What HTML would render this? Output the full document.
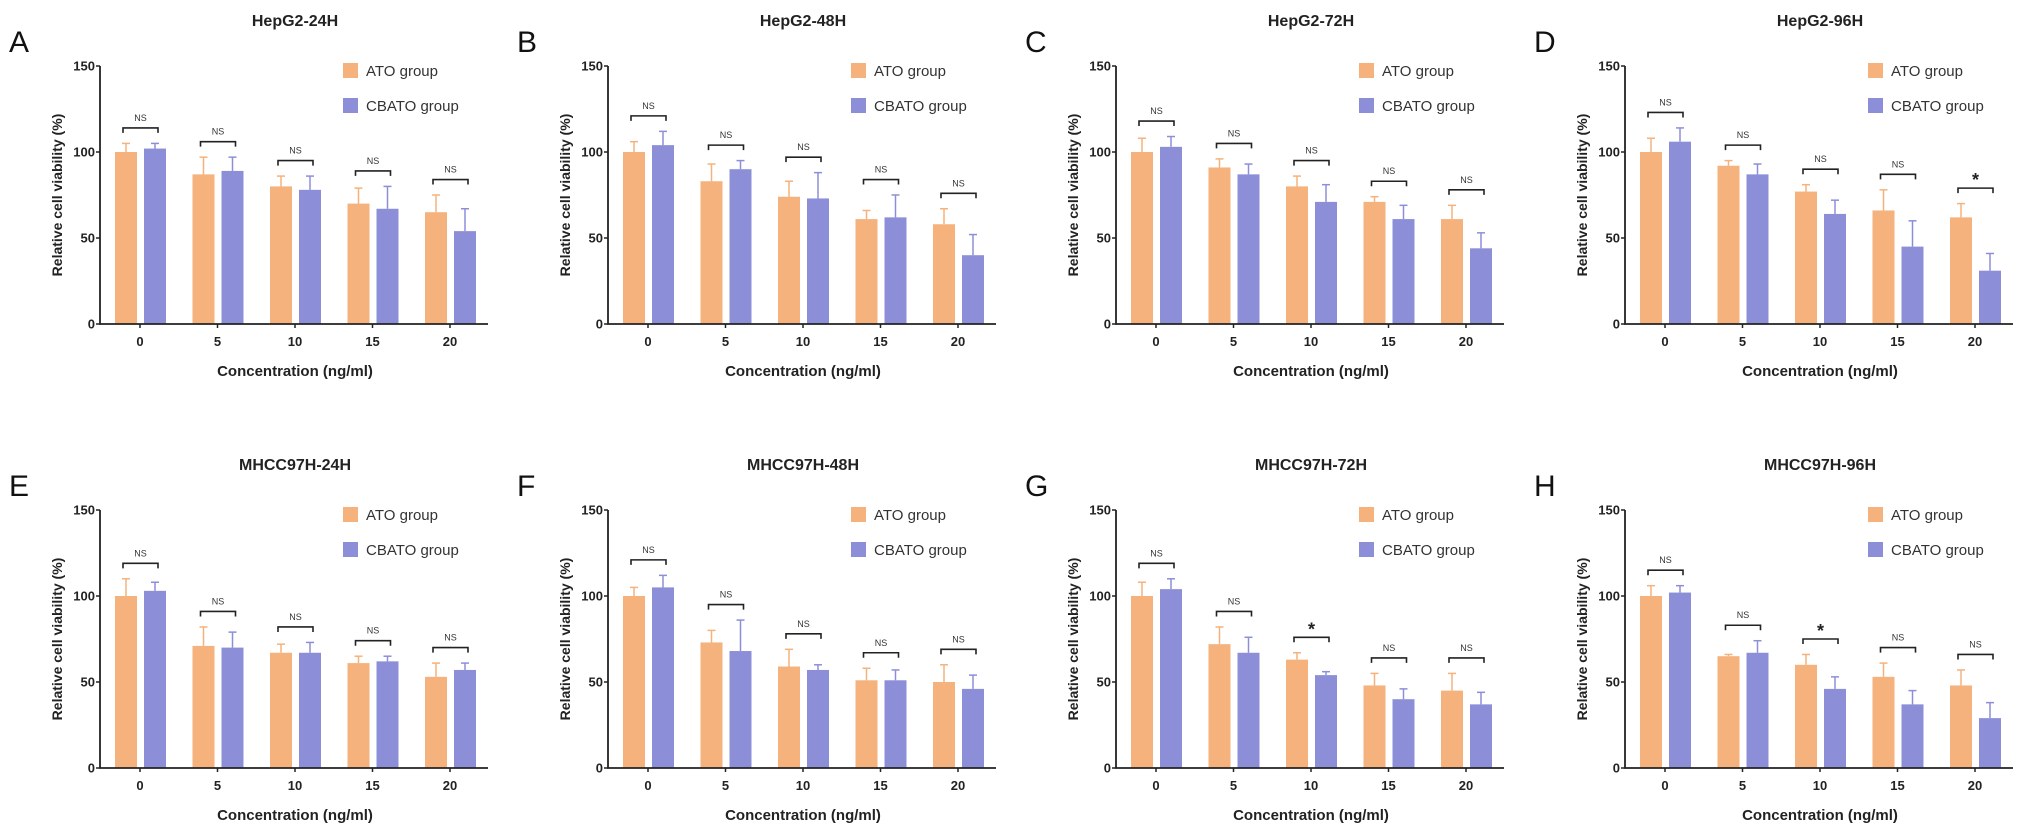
<!DOCTYPE html>
<html><head><meta charset="utf-8"><style>
html,body{margin:0;padding:0;background:#fff;}
svg{display:block;font-family:"Liberation Sans",Arial,sans-serif;}
</style></head><body>
<svg id="fig" width="2031" height="836" viewBox="0 0 2031 836" xmlns="http://www.w3.org/2000/svg"></svg>
<script>
const categories = ["0","5","10","15","20"];
const yTicks = [0,50,100,150];
const panelLetters = ["A","B","C","D","E","F","G","H"];
const panelTitles = ["HepG2-24H","HepG2-48H","HepG2-72H","HepG2-96H","MHCC97H-24H","MHCC97H-48H","MHCC97H-72H","MHCC97H-96H"];
const atoMeans = [
 [100,87,80,70,65],[100,83,74,61,58],[100,91,80,71,61],[100,92,77,66,62],
 [100,71,67,61,53],[100,73,59,51,50],[100,72,63,48,45],[100,65,60,53,48]];
const atoErr = [
 [5,10,6,9,10],[6,10,9,5,9],[8,5,6,3,8],[8,3,4,12,8],
 [10,11,5,4,8],[5,7,10,7,10],[8,10,4,7,10],[6,1,6,8,9]];
const cbMeans = [
 [102,89,78,67,54],[104,90,73,62,40],[103,87,71,61,44],[106,87,64,45,31],
 [103,70,67,62,57],[105,68,57,51,46],[104,67,54,40,37],[102,67,46,37,29]];
const cbErr = [
 [3,8,8,13,13],[8,5,15,13,12],[6,6,10,8,9],[8,6,8,15,10],
 [5,9,6,3,4],[7,18,3,6,8],[6,9,2,6,7],[4,7,7,8,9]];
const sigLabels = [
 ["NS","NS","NS","NS","NS"],["NS","NS","NS","NS","NS"],["NS","NS","NS","NS","NS"],["NS","NS","NS","NS","*"],
 ["NS","NS","NS","NS","NS"],["NS","NS","NS","NS","NS"],["NS","NS","*","NS","NS"],["NS","NS","*","NS","NS"]];

const NS="http://www.w3.org/2000/svg";
const svg=document.getElementById('fig');
const ORANGE="#F5B27C", BLUE="#8C8FD8";
function mk(tag,attrs,parent){const e=document.createElementNS(NS,tag);for(const k in attrs)e.setAttribute(k,attrs[k]);(parent||svg).appendChild(e);return e;}
function txt(s,attrs,parent){const e=mk('text',attrs,parent);e.textContent=s;return e;}

const colOff=[0,508,1016,1525], rowOff=[0,444];
for(let p=0;p<8;p++){
  const ox=colOff[p%4], oy=rowOff[Math.floor(p/4)];
  const g=mk('g',{transform:`translate(${ox},${oy})`});
  
  
  const X0=100, X1=488, Y0=324, Y1=66;
  const y=v=>Y0-(v/150)*(Y0-Y1);
  const xc=i=>140+i*77.5;
  const bw=22;
  const lt=txt(panelLetters[p],{x:9,y:52,'font-size':30,fill:'#111'},g);
  
  
  const tt=txt(panelTitles[p],{x:295,y:26,'font-size':16,'font-weight':'bold','text-anchor':'middle',fill:'#222'},g);
  
  
  // bars
  for(let i=0;i<5;i++){
    const xa=xc(i)-25, xb=xc(i)+4;
    const va=atoMeans[p][i], vb=cbMeans[p][i], ea=atoErr[p][i], eb=cbErr[p][i];
    [[xa,va,ea,ORANGE,'ato'],[xb,vb,eb,BLUE,'cbato']].forEach(([bx,v,e,c,n])=>{
      const ln=mk('line',{x1:bx+bw/2,x2:bx+bw/2,y1:y(v),y2:y(v+e),stroke:c,'stroke-width':1.5},g);
      
      
      const cap=mk('line',{x1:bx+bw/2-4,x2:bx+bw/2+4,y1:y(v+e),y2:y(v+e),stroke:c,'stroke-width':1.5},g);
      
      
      const r=mk('rect',{x:bx,y:y(v),width:bw,height:Y0-y(v),fill:c},g);
      
      
    });
    const top=Math.max(va+ea,vb+eb)+9;
    const by=y(top), l=xa+bw/2-3, rr=xb+bw/2+3;
    const br=mk('path',{d:`M${l},${by+5}V${by}H${rr}V${by+5}`,fill:'none',stroke:'#222','stroke-width':1.6},g);
    
    
    const s=sigLabels[p][i];
    const st=s==='*'?txt('*',{x:(l+rr)/2,y:by-2,'font-size':18,'font-weight':'bold','text-anchor':'middle',fill:'#222'},g)
                    :txt(s,{x:(l+rr)/2,y:by-7,'font-size':9,'text-anchor':'middle',fill:'#333'},g);
    
    
    const xt=txt(categories[i],{x:xc(i),y:Y0+22,'font-size':13,'font-weight':'bold','text-anchor':'middle',fill:'#222'},g);
    
    
    mk('line',{x1:xc(i),x2:xc(i),y1:Y0,y2:Y0+4,stroke:'#222','stroke-width':1.5},g);
  }
  // axes
  const ax=mk('path',{d:`M${X0},${Y1}V${Y0}H${X1}`,fill:'none',stroke:'#222','stroke-width':1.8},g);
  
  
  yTicks.forEach(t=>{
    mk('line',{x1:X0-4,x2:X0,y1:y(t),y2:y(t),stroke:'#222','stroke-width':1.5},g);
    const yt=txt(String(t),{x:X0-5,y:y(t)+4.5,'font-size':13,'font-weight':'bold','text-anchor':'end',fill:'#222'},g);
    
    
  });
  const yl=txt('Relative cell viability (%)',{x:0,y:0,'font-size':14,'font-weight':'bold','text-anchor':'middle',fill:'#222',transform:`translate(62,195) rotate(-90)`},g);
  
  
  const xl=txt('Concentration (ng/ml)',{x:295,y:376,'font-size':15,'font-weight':'bold','text-anchor':'middle',fill:'#222'},g);
  
  
  // legend
  [[ORANGE,'ATO group',63],[BLUE,'CBATO group',98]].forEach(([c,l,ly])=>{
    const sq=mk('rect',{x:343,y:ly,width:15,height:15,fill:c},g);
    
    
    const lt2=txt(l,{x:366,y:ly+13,'font-size':15,fill:'#333'},g);
    
    
  });
}
</script>
</body></html>
